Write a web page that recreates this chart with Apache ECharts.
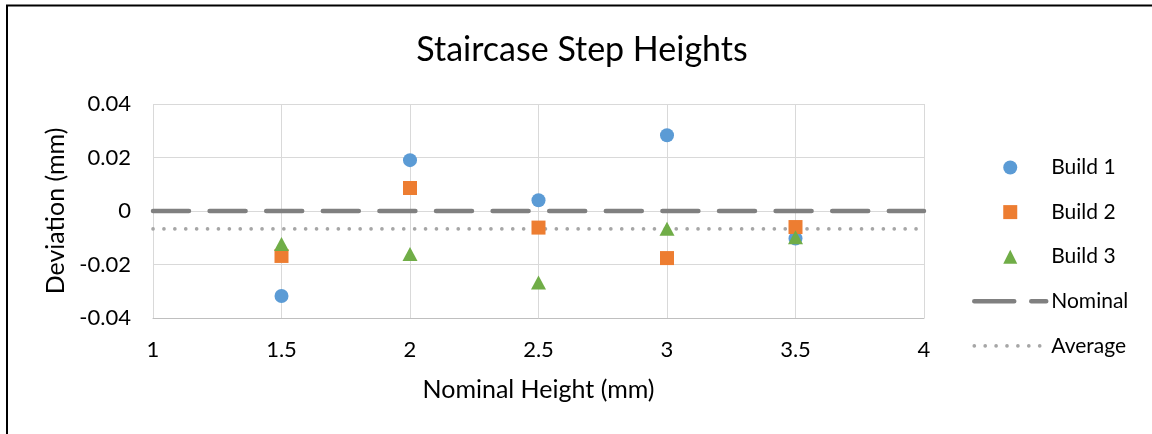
<!DOCTYPE html>
<html>
<head>
<meta charset="utf-8">
<title>Staircase Step Heights</title>
<script src="https://cdn.jsdelivr.net/npm/echarts@6/dist/echarts.min.js"></script>
<style>
  html, body { margin: 0; padding: 0; background: #ffffff; }
  #chart { width: 1152px; height: 434px; }
</style>
</head>
<body>
<div id="chart"></div>
<script>
// Nominal step heights (mm) on the x axis
const nominalHeights = [1.5, 2, 2.5, 3, 3.5];

// Measured deviation from nominal (mm) for each build
const build1 = [-0.0318, 0.0190, 0.0040, 0.0283, -0.0103];
const build2 = [-0.0168, 0.0086, -0.0062, -0.0176, -0.0060];
const build3 = [-0.0123, -0.0161, -0.0267, -0.0066, -0.0098];

// Reference lines spanning the axis
const refLineX = [1, 4];
const nominalDeviation = [0, 0];
const averageDeviation = [-0.0067, -0.0067];

// Axis ticks
const xTicks = { min: 1, max: 4, step: 0.5 };
const yTicks = { min: -0.04, max: 0.04, step: 0.02 };

const FONT = 'Lato';

// Square and triangle icons as paths so the legend keeps their aspect ratio
const SQUARE_ICON = 'path://M0,0H10V10H0Z';
const TRIANGLE_ICON = 'path://M5,0L10,10H0Z';

// Line styles shared by the series and their legend entries
const nominalLine = { color: '#808080', width: 4.5, type: [36, 20.6], cap: 'round' };
const averageLine = { color: '#A6A6A6', width: 3.6, type: [0.1, 10.8], cap: 'round' };

function pairs(xs, ys) {
  return xs.map((x, i) => [x, ys[i]]);
}

const chart = echarts.init(document.getElementById('chart'), null, { renderer: 'canvas' });

const hiddenSymbol = { opacity: 0, borderWidth: 0 };

const option = {
  backgroundColor: '#ffffff',
  animation: false,
  title: {
    text: 'Staircase Step Heights',
    left: 577,
    textAlign: 'center',
    top: 28,
    textStyle: { fontFamily: FONT, fontSize: 34, fontWeight: 'normal', color: '#000000' }
  },
  grid: { left: 153, right: 228, top: 104, bottom: 116, containLabel: false },
  legend: {
    orient: 'vertical',
    left: 967,
    top: 151.5,
    itemWidth: 72,
    itemHeight: 14,
    itemGap: 22.6,
    symbolKeepAspect: true,
    data: [
      { name: 'Build 1', icon: 'circle' },
      { name: 'Build 2', icon: SQUARE_ICON },
      { name: 'Build 3', icon: TRIANGLE_ICON },
      { name: 'Nominal', itemStyle: hiddenSymbol,
        lineStyle: Object.assign({}, nominalLine, { type: [40, 17] }) },
      { name: 'Average', itemStyle: hiddenSymbol, lineStyle: averageLine }
    ],
    textStyle: { fontFamily: FONT, fontSize: 21, lineHeight: 22, color: '#000000' }
  },
  xAxis: {
    type: 'value',
    min: xTicks.min,
    max: xTicks.max,
    interval: xTicks.step,
    name: 'Nominal Height (mm)',
    nameLocation: 'middle',
    nameGap: 59,
    nameTextStyle: { fontFamily: FONT, fontSize: 25, color: '#000000' },
    axisLine: { show: true, onZero: false, lineStyle: { color: '#BFBFBF', width: 1 } },
    axisTick: { show: false },
    axisLabel: { margin: 21, fontFamily: FONT, fontSize: 22, color: '#000000' },
    splitLine: { show: true, lineStyle: { color: '#D9D9D9', width: 1 } }
  },
  yAxis: {
    type: 'value',
    min: yTicks.min,
    max: yTicks.max,
    interval: yTicks.step,
    name: 'Deviation (mm)',
    nameLocation: 'middle',
    nameRotate: 90,
    nameGap: 82,
    nameTextStyle: { fontFamily: FONT, fontSize: 25, color: '#000000' },
    axisLine: { show: false },
    axisTick: { show: false },
    axisLabel: { margin: 22, fontFamily: FONT, fontSize: 22, color: '#000000' },
    splitLine: { show: true, lineStyle: { color: '#D9D9D9', width: 1 } }
  },
  series: [
    {
      name: 'Build 1', type: 'scatter', z: 5,
      symbol: 'circle', symbolSize: 14,
      itemStyle: { color: '#5B9BD5', opacity: 1 },
      data: pairs(nominalHeights, build1)
    },
    {
      name: 'Build 2', type: 'scatter', z: 5,
      symbol: 'rect', symbolSize: 14,
      itemStyle: { color: '#ED7D31', opacity: 1 },
      data: pairs(nominalHeights, build2)
    },
    {
      name: 'Build 3', type: 'scatter', z: 5,
      symbol: 'triangle', symbolSize: [15, 14],
      itemStyle: { color: '#70AD47', opacity: 1 },
      data: pairs(nominalHeights, build3)
    },
    {
      name: 'Nominal', type: 'line', z: 3,
      symbol: 'none', silent: true,
      itemStyle: { color: '#808080' },
      lineStyle: nominalLine,
      data: pairs(refLineX, nominalDeviation)
    },
    {
      name: 'Average', type: 'line', z: 3,
      symbol: 'none', silent: true,
      itemStyle: { color: '#A6A6A6' },
      lineStyle: averageLine,
      data: pairs(refLineX, averageDeviation)
    }
  ],
  graphic: [
    {
      type: 'rect', silent: true, z: 100,
      shape: { x: 7, y: 5.5, width: 1200, height: 500 },
      style: { fill: 'none', stroke: '#000000', lineWidth: 2 }
    }
  ]
};

chart.setOption(option);
</script>
</body>
</html>
